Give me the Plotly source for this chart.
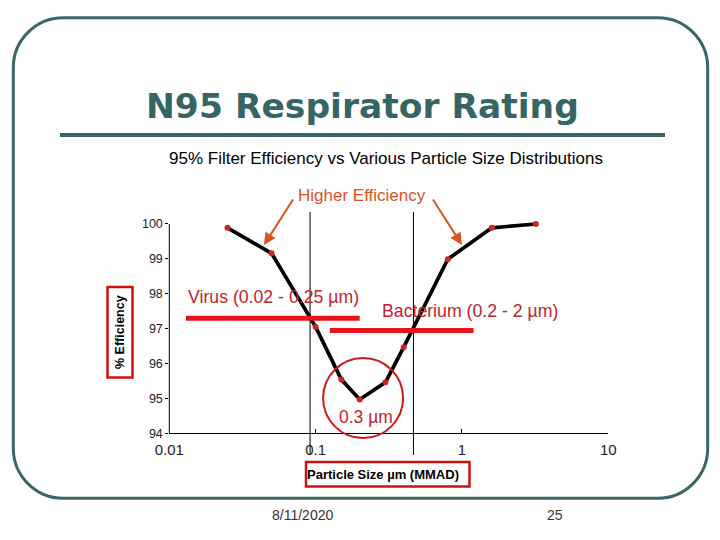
import plotly.graph_objects as go
import math

# ---------------- data ----------------
particle_size = [0.025, 0.05, 0.1, 0.15, 0.2, 0.3, 0.4, 0.8, 1.6, 3.2]
efficiency = [99.89, 99.16, 97.05, 95.54, 94.97, 95.46, 96.47, 98.99, 99.89, 100.0]

x_tickvals = [0.01, 0.1, 1, 10]
x_ticktext = ["0.01", "0.1", "1", "10"]
y_tickvals = [94, 95, 96, 97, 98, 99, 100]

virus_range = [0.013, 0.20]
virus_level = 97.30
bacterium_range = [0.125, 1.2]
bacterium_level = 96.95
guide_lines_x = [0.0916, 0.466]
mpps_center = [0.211, 95.01]   # circled minimum

W, H = 720, 540
# page body offset compensation (browser default 8px margin)
OFF_X, OFF_Y = -8, -8
def px(x):
    return (x + OFF_X) / W
def py(y):
    return 1 - (y + OFF_Y) / H

# plot area in pixels
X0, X1 = 169.3, 608.3
Y_AX, Y_100 = 433.3, 224.0
unit = (Y_AX - Y_100) / 6.0
y_lo, y_hi = 94.0, 100.5
top_px = Y_100 - (y_hi - 100) * unit

def y2paper(v):
    return py(Y_AX - (v - 94.0) * unit)

SANS = "Liberation Sans, Arial, sans-serif"
TEAL = "#356565"
DARKRED = "#c0242b"
BRIGHTRED = "#e8141c"
ORANGE = "#d9541e"

fig = go.Figure()
fig.add_trace(go.Scatter(
    x=particle_size, y=efficiency, mode="lines+markers",
    line=dict(color="black", width=3.7),
    marker=dict(color="#d42222", size=6),
    cliponaxis=False, showlegend=False, hoverinfo="skip"))

shapes = []
# slide frame (rounded rectangle)
L, T, R, B, r = 13.3, 17.7, 707.7, 498.3, 50
k = 0.5523 * r
pts = [
    ("M", [(L + r, T)]), ("L", [(R - r, T)]),
    ("C", [(R - r + k, T), (R, T + r - k), (R, T + r)]), ("L", [(R, B - r)]),
    ("C", [(R, B - r + k), (R - r + k, B), (R - r, B)]), ("L", [(L + r, B)]),
    ("C", [(L + r - k, B), (L, B - r + k), (L, B - r)]), ("L", [(L, T + r)]),
    ("C", [(L, T + r - k), (L + r - k, T), (L + r, T)]),
]
path = ""
for cmd, cs in pts:
    path += cmd + " " + " ".join(f"{px(a):.5f},{py(b):.5f}" for a, b in cs) + " "
path += "Z"
shapes.append(dict(type="path", xref="paper", yref="paper", path=path,
                   line=dict(color="#3b6666", width=3)))
# title underline
shapes.append(dict(type="line", xref="paper", yref="paper",
                   x0=px(60), x1=px(665), y0=py(135), y1=py(135),
                   line=dict(color=TEAL, width=4)))
# y axis line
shapes.append(dict(type="line", xref="paper", yref="paper",
                   x0=px(X0), x1=px(X0), y0=y2paper(94), y1=y2paper(100),
                   line=dict(color="black", width=1)))
# vertical guide lines
for gx in guide_lines_x:
    shapes.append(dict(type="line", xref="x", yref="paper",
                       x0=gx, x1=gx, y0=py(455), y1=py(212),
                       line=dict(color="black", width=1)))
# red range bars
shapes.append(dict(type="line", xref="x", yref="paper",
                   x0=virus_range[0], x1=virus_range[1],
                   y0=y2paper(virus_level), y1=y2paper(virus_level),
                   line=dict(color=BRIGHTRED, width=5)))
shapes.append(dict(type="line", xref="x", yref="paper",
                   x0=bacterium_range[0], x1=bacterium_range[1],
                   y0=y2paper(bacterium_level), y1=y2paper(bacterium_level),
                   line=dict(color=BRIGHTRED, width=5)))
# circle around minimum
rad_px = 40
cx_log = math.log10(mpps_center[0])
dlog = rad_px / ((X1 - X0) / 3.0)
cy = Y_AX - (mpps_center[1] - 94.0) * unit
shapes.append(dict(type="circle", xref="x", yref="paper",
                   x0=10 ** (cx_log - dlog), x1=10 ** (cx_log + dlog),
                   y0=py(cy + rad_px), y1=py(cy - rad_px),
                   line=dict(color="#cc1a1a", width=2)))
# axis title boxes
shapes.append(dict(type="rect", xref="paper", yref="paper",
                   x0=px(107.5), x1=px(132.5), y0=py(377.5), y1=py(287),
                   line=dict(color="#cc1111", width=2.5)))
shapes.append(dict(type="rect", xref="paper", yref="paper",
                   x0=px(306), x1=px(469.5), y0=py(486.5), y1=py(462),
                   line=dict(color="#cc1111", width=2.5)))

ann = []
def text(x, y, s, size, color, family=SANS, bold=False, xanchor="center", angle=0):
    ann.append(dict(x=px(x), y=py(y), xref="paper", yref="paper", text=s,
                    showarrow=False, xanchor=xanchor, yanchor="middle",
                    textangle=angle,
                    font=dict(size=size, color=color, family=family,
                              weight="bold" if bold else "normal")))

text(362, 106, "N95 Respirator Rating", 34.5, TEAL, family="DejaVu Sans, Liberation Sans", bold=True)
text(386, 158, "95% Filter Efficiency vs Various Particle Size Distributions", 17, "black")
text(362, 195, "Higher Efficiency", 17, ORANGE)
text(186, 297, "Virus (0.02 - 0.25 µm)", 17.7, DARKRED, xanchor="left")
text(380, 311, "Bacterium (0.2 - 2 µm)", 17.7, DARKRED, xanchor="left")
text(366, 417, "0.3 µm", 17.5, DARKRED)
text(120, 332, "% Efficiency", 12.5, "black", bold=True, angle=-90)
text(383, 474, "Particle Size µm (MMAD)", 13, "black", bold=True)
text(302, 515, "8/11/2020", 14, "#333333")
text(555, 515, "25", 14, "#333333")

# arrows
for (tx, ty), (sx, sy) in [((264, 245), (294, 198)), ((462, 245), (432, 198))]:
    ann.append(dict(x=px(tx), y=py(ty), xref="paper", yref="paper", text="",
                    showarrow=True, ax=sx - tx, ay=sy - ty, axref="pixel", ayref="pixel",
                    arrowhead=2, arrowsize=1.2, arrowwidth=2, arrowcolor=ORANGE))

fig.update_layout(
    width=W, height=H, margin=dict(l=0, r=0, t=0, b=0, pad=0, autoexpand=False),
    paper_bgcolor="white", plot_bgcolor="white",
    xaxis=dict(type="log", range=[-2, 1], domain=[px(X0), px(X1)],
               tickvals=x_tickvals, ticktext=x_ticktext,
               showline=True, linecolor="black", linewidth=1,
               ticks="inside", ticklen=4, tickcolor="black",
               showgrid=False, zeroline=False, automargin=False,
               ticklabelstandoff=3,
               tickfont=dict(size=15, color="#222222", family=SANS)),
    yaxis=dict(range=[y_lo, y_hi], domain=[py(Y_AX), py(top_px)],
               tickvals=y_tickvals, showline=False,
               ticks="outside", ticklen=3, tickcolor="black",
               showgrid=False, zeroline=False, automargin=False,
               tickfont=dict(size=12.5, color="#222222", family=SANS)),
    shapes=shapes, annotations=ann)

fig.write_html("out.html")
